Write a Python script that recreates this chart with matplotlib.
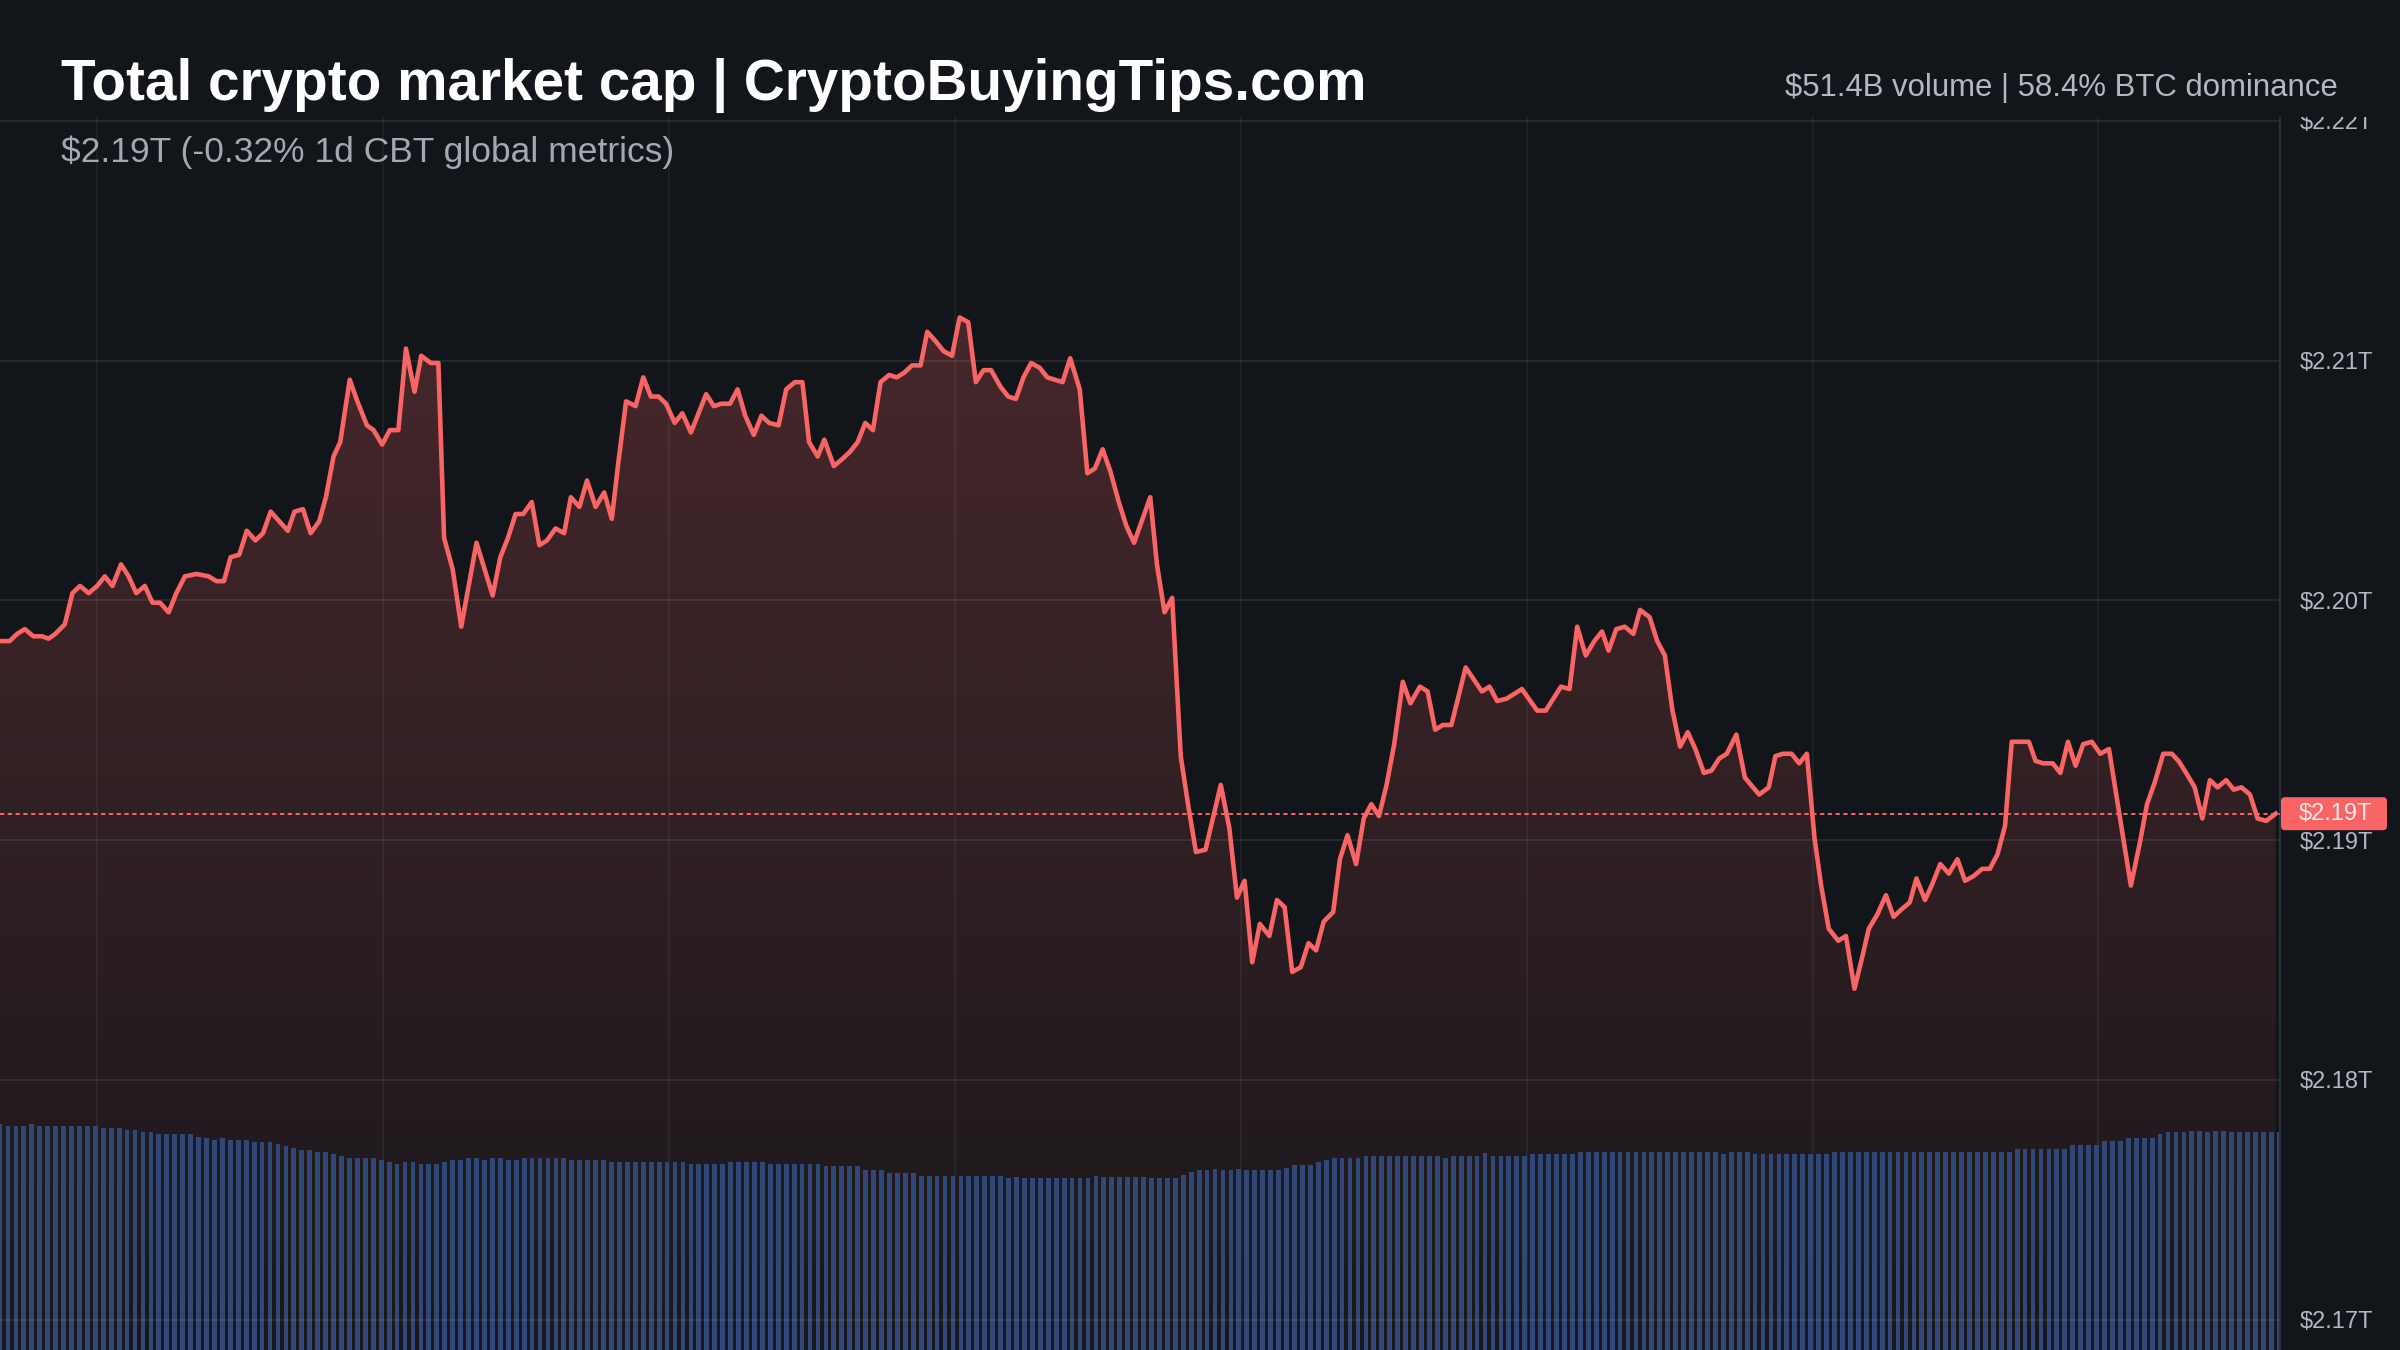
import numpy as np
import matplotlib
matplotlib.use("Agg")
import matplotlib.pyplot as plt
from matplotlib.patches import Rectangle, FancyBboxPatch
from matplotlib.transforms import IdentityTransform

# total market cap, $T, hours since start of the 24h window
cap_hours = [
    0.00, 0.10, 0.18, 0.26, 0.35, 0.44, 0.51, 0.58, 0.68, 0.76, 0.84, 0.93,
    1.02, 1.10, 1.18, 1.27, 1.35, 1.43, 1.52, 1.60, 1.68, 1.77, 1.85, 1.94,
    2.06, 2.19, 2.27, 2.35, 2.42, 2.51, 2.59, 2.68, 2.76, 2.84, 2.93, 3.02,
    3.09, 3.18, 3.26, 3.35, 3.42, 3.50, 3.57, 3.67, 3.75, 3.85, 3.92, 4.01,
    4.09, 4.18, 4.26, 4.35, 4.42, 4.52, 4.60, 4.66, 4.75, 4.84, 5.00, 5.17,
    5.25, 5.33, 5.41, 5.49, 5.58, 5.66, 5.74, 5.83, 5.92, 5.99, 6.08, 6.16,
    6.25, 6.34, 6.42, 6.49, 6.57, 6.67, 6.75, 6.83, 6.91, 6.99, 7.08, 7.16,
    7.25, 7.33, 7.41, 7.49, 7.57, 7.66, 7.74, 7.82, 7.91, 7.99, 8.07, 8.17,
    8.25, 8.34, 8.42, 8.49, 8.58, 8.65, 8.75, 8.84, 8.92, 9.00, 9.08, 9.16,
    9.24, 9.33, 9.41, 9.49, 9.57, 9.66, 9.73, 9.82, 9.90, 9.99, 10.07, 10.16,
    10.24, 10.32, 10.40, 10.50, 10.58, 10.66, 10.74, 10.82, 10.91, 10.99, 11.07, 11.15,
    11.23, 11.33, 11.41, 11.49, 11.57, 11.65, 11.74, 11.82, 11.90, 11.98, 12.07, 12.14,
    12.22, 12.30, 12.39, 12.47, 12.55, 12.65, 12.81, 12.90, 12.98, 13.06, 13.14, 13.22,
    13.32, 13.40, 13.48, 13.56, 13.65, 13.73, 13.81, 13.89, 13.99, 14.06, 14.14, 14.23,
    14.31, 14.39, 14.47, 14.55, 14.63, 14.72, 14.80, 14.90, 14.98, 15.06, 15.14, 15.23,
    15.38, 15.55, 15.63, 15.71, 15.81, 15.97, 16.13, 16.22, 16.38, 16.47, 16.55, 16.64,
    16.73, 16.81, 16.88, 16.96, 17.05, 17.14, 17.21, 17.31, 17.39, 17.47, 17.55, 17.63,
    17.71, 17.79, 17.88, 17.96, 18.04, 18.12, 18.22, 18.31, 18.46, 18.56, 18.63, 18.71,
    18.80, 18.88, 18.96, 19.04, 19.11, 19.19, 19.29, 19.37, 19.46, 19.54, 19.61, 19.70,
    19.79, 19.87, 19.95, 20.04, 20.11, 20.20, 20.28, 20.36, 20.45, 20.54, 20.62, 20.71,
    20.80, 20.88, 20.96, 21.04, 21.11, 21.29, 21.36, 21.44, 21.54, 21.62, 21.70, 21.78,
    21.86, 21.95, 22.04, 22.13, 22.36, 22.45, 22.53, 22.61, 22.70, 22.79, 22.86, 22.94,
    23.03, 23.11, 23.19, 23.27, 23.36, 23.44, 23.52, 23.61, 23.69, 23.78, 23.88,
]
cap_trillions = [
    2.1983, 2.1983, 2.1986, 2.1988, 2.1985, 2.1985, 2.1984, 2.1986, 2.1990, 2.2003, 2.2006, 2.2003,
    2.2006, 2.2010, 2.2006, 2.2015, 2.2010, 2.2003, 2.2006, 2.1999, 2.1999, 2.1995, 2.2003, 2.2010,
    2.2011, 2.2010, 2.2008, 2.2008, 2.2018, 2.2019, 2.2029, 2.2025, 2.2028, 2.2037, 2.2033, 2.2029,
    2.2037, 2.2038, 2.2028, 2.2033, 2.2043, 2.2060, 2.2066, 2.2092, 2.2083, 2.2073, 2.2071, 2.2065,
    2.2071, 2.2071, 2.2105, 2.2087, 2.2102, 2.2099, 2.2099, 2.2026, 2.2013, 2.1989, 2.2024, 2.2002,
    2.2018, 2.2026, 2.2036, 2.2036, 2.2041, 2.2023, 2.2025, 2.2030, 2.2028, 2.2043, 2.2039, 2.2050,
    2.2039, 2.2045, 2.2034, 2.2058, 2.2083, 2.2081, 2.2093, 2.2085, 2.2085, 2.2082, 2.2074, 2.2078,
    2.2070, 2.2078, 2.2086, 2.2081, 2.2082, 2.2082, 2.2088, 2.2077, 2.2069, 2.2077, 2.2074, 2.2073,
    2.2088, 2.2091, 2.2091, 2.2066, 2.2060, 2.2067, 2.2056, 2.2059, 2.2062, 2.2066, 2.2074, 2.2071,
    2.2091, 2.2094, 2.2093, 2.2095, 2.2098, 2.2098, 2.2112, 2.2108, 2.2104, 2.2102, 2.2118, 2.2116,
    2.2091, 2.2096, 2.2096, 2.2089, 2.2085, 2.2084, 2.2093, 2.2099, 2.2097, 2.2093, 2.2092, 2.2091,
    2.2101, 2.2088, 2.2053, 2.2055, 2.2063, 2.2054, 2.2041, 2.2031, 2.2024, 2.2033, 2.2043, 2.2015,
    2.1995, 2.2001, 2.1935, 2.1914, 2.1895, 2.1896, 2.1923, 2.1905, 2.1876, 2.1883, 2.1849, 2.1865,
    2.1860, 2.1875, 2.1872, 2.1845, 2.1847, 2.1857, 2.1854, 2.1866, 2.1870, 2.1892, 2.1902, 2.1890,
    2.1909, 2.1915, 2.1910, 2.1923, 2.1940, 2.1966, 2.1957, 2.1964, 2.1962, 2.1946, 2.1948, 2.1948,
    2.1972, 2.1962, 2.1964, 2.1958, 2.1959, 2.1963, 2.1954, 2.1954, 2.1964, 2.1963, 2.1989, 2.1977,
    2.1983, 2.1987, 2.1979, 2.1988, 2.1989, 2.1986, 2.1996, 2.1993, 2.1983, 2.1977, 2.1954, 2.1939,
    2.1945, 2.1938, 2.1928, 2.1929, 2.1934, 2.1936, 2.1944, 2.1926, 2.1919, 2.1922, 2.1935, 2.1936,
    2.1936, 2.1932, 2.1936, 2.1901, 2.1881, 2.1863, 2.1858, 2.1860, 2.1838, 2.1851, 2.1863, 2.1869,
    2.1877, 2.1868, 2.1871, 2.1874, 2.1884, 2.1875, 2.1882, 2.1890, 2.1886, 2.1892, 2.1883, 2.1885,
    2.1888, 2.1888, 2.1894, 2.1906, 2.1941, 2.1941, 2.1933, 2.1932, 2.1932, 2.1928, 2.1941, 2.1931,
    2.1940, 2.1941, 2.1936, 2.1938, 2.1881, 2.1898, 2.1915, 2.1924, 2.1936, 2.1936, 2.1933, 2.1928,
    2.1922, 2.1909, 2.1925, 2.1922, 2.1925, 2.1921, 2.1922, 2.1919, 2.1909, 2.1908, 2.1911,
]

# rolling 24h volume, $B, one bar every 5 minutes
volume_b = [
    53.36, 52.89, 52.89, 52.89, 53.36, 52.89, 52.89, 52.89, 52.89, 52.89, 52.89, 52.89,
    52.89, 52.34, 52.34, 52.34, 51.94, 51.94, 51.40, 51.40, 51.00, 51.00, 51.00, 51.00,
    51.00, 50.36, 49.98, 49.58, 49.98, 49.58, 49.58, 49.58, 49.18, 49.18, 49.18, 48.64,
    48.16, 47.62, 47.22, 47.22, 46.82, 46.82, 46.28, 45.80, 45.26, 45.26, 45.26, 45.26,
    44.86, 44.39, 43.91, 44.39, 44.39, 43.91, 43.91, 43.91, 44.39, 44.86, 44.86, 45.26,
    45.26, 44.86, 45.26, 45.26, 44.86, 44.86, 45.26, 45.26, 45.26, 45.26, 45.26, 45.26,
    44.86, 44.86, 44.86, 44.86, 44.86, 44.46, 44.46, 44.46, 44.46, 44.46, 44.46, 44.46,
    44.46, 44.46, 44.46, 43.91, 43.91, 43.91, 43.91, 43.91, 44.46, 44.46, 44.46, 44.46,
    44.46, 43.91, 43.91, 43.91, 43.91, 43.91, 43.91, 43.91, 43.51, 43.51, 43.51, 43.51,
    43.51, 42.57, 42.57, 42.57, 41.79, 41.79, 41.79, 41.79, 41.08, 41.08, 41.08, 41.08,
    41.08, 41.08, 41.08, 41.08, 41.08, 41.08, 41.08, 40.68, 40.92, 40.68, 40.68, 40.68,
    40.68, 40.68, 40.68, 40.68, 40.68, 40.68, 41.08, 40.77, 40.77, 40.77, 40.77, 40.77,
    40.77, 40.61, 40.61, 40.61, 40.61, 41.32, 42.03, 42.38, 42.38, 42.66, 42.38, 42.38,
    42.66, 42.38, 42.38, 42.38, 42.38, 42.38, 42.97, 43.56, 43.56, 43.56, 44.46, 44.86,
    45.40, 45.40, 45.40, 45.40, 45.80, 45.80, 45.80, 45.80, 45.80, 45.80, 45.80, 45.80,
    45.80, 45.80, 45.40, 45.80, 45.80, 45.80, 45.80, 46.44, 45.80, 45.80, 45.80, 45.80,
    45.80, 46.28, 46.28, 46.28, 46.28, 46.28, 46.28, 46.68, 46.68, 46.68, 46.68, 46.68,
    46.68, 46.68, 46.68, 46.68, 46.68, 46.68, 46.68, 46.68, 46.68, 46.68, 46.68, 46.68,
    46.68, 46.28, 46.68, 46.68, 46.68, 46.28, 46.28, 46.28, 46.28, 46.28, 46.28, 46.28,
    46.28, 46.28, 46.28, 46.68, 46.68, 46.68, 46.68, 46.68, 46.68, 46.68, 46.68, 46.68,
    46.68, 46.68, 46.68, 46.68, 46.68, 46.68, 46.68, 46.68, 46.68, 46.68, 46.68, 46.68,
    46.68, 46.68, 47.34, 47.34, 47.34, 47.34, 47.34, 47.34, 47.34, 48.40, 48.40, 48.40,
    48.40, 49.23, 49.23, 49.23, 50.05, 50.05, 50.05, 50.05, 51.00, 51.40, 51.40, 51.40,
    51.78, 51.78, 51.40, 51.78, 51.78, 51.40, 51.40, 51.40, 51.40, 51.40, 51.40, 51.40,
]

price_ticks = [2.17, 2.18, 2.19, 2.20, 2.21, 2.22]

title = "Total crypto market cap | CryptoBuyingTips.com"
subtitle = "$2.19T (-0.32% 1d CBT global metrics)"
stats = "$51.4B volume | 58.4% BTC dominance"

BG = "#121519"
RED = "#f96565"
BLUE = "#2f4877"
FONT = "Liberation Sans"

plt.rcParams["font.family"] = [FONT, "DejaVu Sans"]

W, H = 2400, 1350
fig = plt.figure(figsize=(W / 100, H / 100), dpi=100, facecolor=BG)

# plot area: right edge at the price scale, top just under the title band
rect = [0, 0, 2280 / W, 1233 / H]
ax = fig.add_axes(rect, facecolor=BG, zorder=1)            # fill + vertical grid
axv = fig.add_axes(rect, sharex=ax, zorder=2)              # volume bars
axp = fig.add_axes(rect, sharex=ax, zorder=3)              # line + price scale
axv.patch.set_visible(False)
axp.patch.set_visible(False)

x_end = 23.925
y_lo, y_hi = 2.16873, 2.22016

times = np.array(cap_hours)
caps = np.array(cap_trillions)

# gradient fill under the line
poly = ax.fill_between(times, caps, y_lo, facecolor="none", edgecolor="none")
alpha = np.linspace(0.23, 0.03, 256)
grad = np.zeros((256, 1, 4))
grad[:, 0, 0] = 0.98
grad[:, 0, 1] = 0.40
grad[:, 0, 2] = 0.40
grad[:, 0, 3] = alpha
img = ax.imshow(grad, extent=[0, x_end, y_lo, caps.max()], aspect="auto",
                origin="upper", interpolation="bilinear", zorder=1)
img.set_clip_path(poly.get_paths()[0], transform=ax.transData)

ax.set_xlim(0, x_end)
ax.set_ylim(y_lo, y_hi)
ax.set_xticks(np.arange(1.02, x_end, 3))
ax.grid(axis="x", color="white", alpha=0.05, lw=1.5)
ax.set_yticks([])

# volume
vol_t = np.arange(len(volume_b)) / 12
axv.bar(vol_t, volume_b, width=0.6 / 12, color=BLUE, linewidth=0)
axv.set_ylim(0, 291.1)
axv.set_yticks([])

# price line
axp.set_ylim(y_lo, y_hi)
axp.set_axisbelow(True)
axp.plot(times, caps, color=RED, lw=3.3, zorder=4)
last = caps[-1]
axp.axhline(last, color=RED, lw=1.4, ls=(0, (2.2, 1.8)), zorder=3)

axp.yaxis.tick_right()
axp.set_yticks(price_ticks)
axp.set_yticklabels([f"${v:.2f}T" for v in price_ticks])
axp.tick_params(axis="y", length=0, pad=14, labelsize=17, labelcolor="#b4b8c1")
axp.grid(axis="y", color="white", alpha=0.08, lw=1.5)

for a in (ax, axv, axp):
    a.tick_params(axis="x", length=0, labelbottom=False)
    for s in a.spines.values():
        s.set_visible(False)
axp.spines["right"].set_visible(True)
axp.spines["right"].set_color("#2c3038")
axp.spines["right"].set_linewidth(1.5)

# current value tag on the price scale
y_pix = axp.transData.transform((0, last))[1]
tag = FancyBboxPatch((2281, y_pix - 16.5), 106, 33,
                     boxstyle="round,pad=0,rounding_size=4",
                     transform=IdentityTransform(), facecolor=RED,
                     edgecolor="none", zorder=20)
fig.add_artist(tag)
fig.text(2299 / W, y_pix / H, f"${last:.2f}T", color="#ffeaea", fontsize=17,
         va="center", ha="left", zorder=21)

# title band over the top of the chart
band = Rectangle((0, 1 - 117 / H), 1, 117 / H, transform=fig.transFigure,
                 facecolor=BG, edgecolor="none", zorder=10)
fig.add_artist(band)

fig.text(61 / W, 1 - 100 / H, title, color="white", fontsize=40.8,
         fontweight="bold", va="baseline", ha="left", zorder=11)
fig.text(61 / W, 1 - 162 / H, subtitle, color="#a4a8b1", fontsize=25.5,
         va="baseline", ha="left", zorder=11)
fig.text(2338 / W, 1 - 96 / H, stats, color="#b4b8c1", fontsize=22.4,
         va="baseline", ha="right", zorder=11)

fig.savefig("out.png", dpi=100, facecolor=BG)
